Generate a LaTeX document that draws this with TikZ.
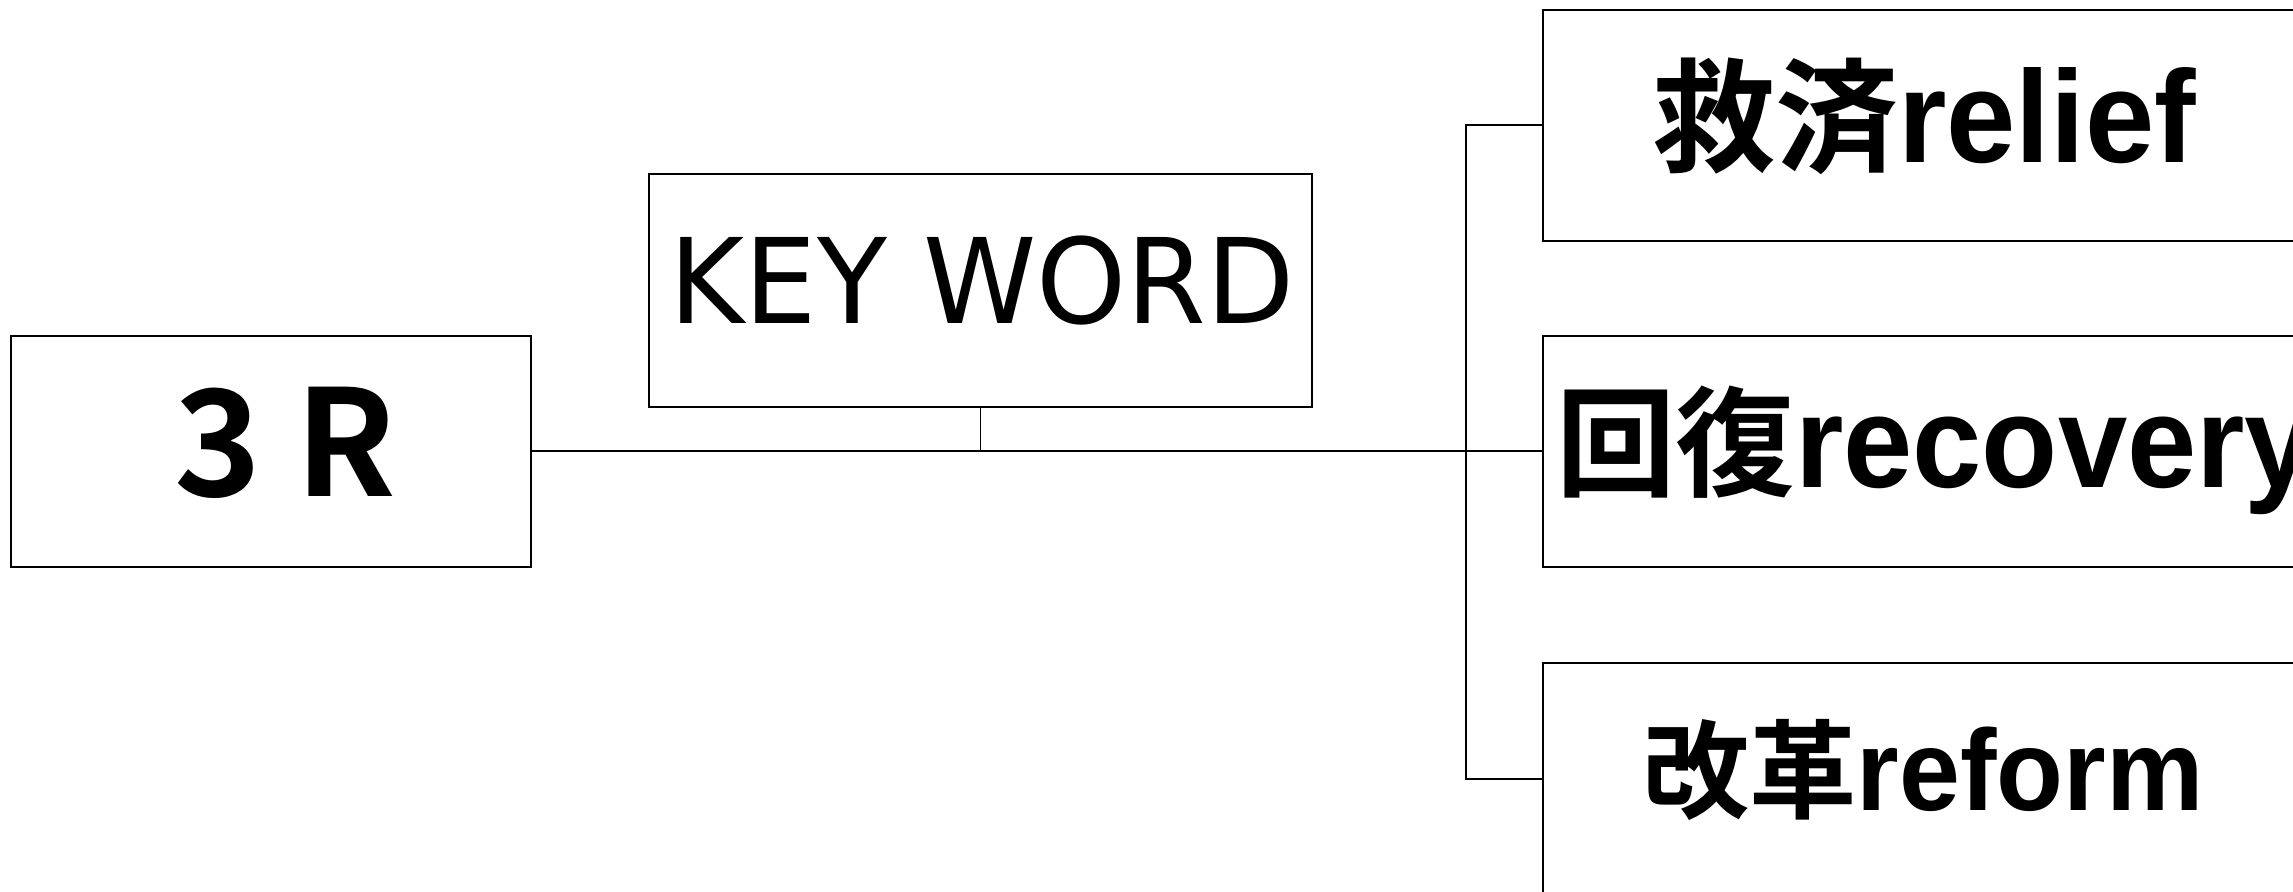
\documentclass[tikz,border=0pt]{standalone}
\usepackage{fontspec}
\newfontfamily\jpfont{Noto Sans CJK JP}[BoldFont={Noto Sans CJK JP Bold}]
\newfontfamily\latfont{Liberation Sans}[FakeStretch=0.95]
\newfontfamily\kwfont{DejaVu Sans}[FakeStretch=0.97]
% kanji size, latin size, kanji, latin
\newcommand{\mixlabel}[4]{{\jpfont\bfseries\fontsize{#1}{#1}\selectfont #3}{\latfont\bfseries\fontsize{#2}{#2}\selectfont #4}}

\begin{document}
\begin{tikzpicture}[x=0.1mm,y=-0.1mm,line width=0.2mm,
    box/.style={draw,rectangle,inner sep=0pt,minimum width=76mm,minimum height=23.1mm},
    word/.style={inner sep=0pt},
    rootfont/.style={font=\jpfont\bfseries\fontsize{42}{42}\selectfont},
    keyfont/.style={font=\kwfont\fontsize{33.6}{33.6}\selectfont}]
    \useasboundingbox (0,0) rectangle (2293,892);
    % boxes
    \node[box,minimum width=52mm] (root) at (271,451.5) {};
    \node[box,minimum width=66.3mm,minimum height=23.3mm] (key) at (980.5,290.5) {};
    \node[box] (relief) at (1923,125.5) {};
    \node[box] (recovery) at (1923,451.5) {};
    \node[box] (reform) at (1923,778.5) {};
    % texts
    \node[word,rootfont,anchor=base] (rootT) at (285.5,497) {3 R};
    \node[word,keyfont,anchor=base] (keyT) at (982,324) {KEY WORD};
    \node[word,anchor=base] (reliefT) at (1924,163) {\mixlabel{35}{37.3}{救済}{relief}};
    \node[word,anchor=base west] (recoveryT) at (1555,488) {\mixlabel{34}{37.3}{回復}{recovery}};
    \node[word,anchor=base] (reformT) at (1923,810) {\mixlabel{30.5}{32.8}{改革}{reform}};
    % connectors
    \draw (root.east) -- (recovery.west);
    \draw[line width=0.15mm] (key.south) -- (key.south |- root.east);
    \draw (relief.west) -- ++(-76,0) |- (reform.west);
\end{tikzpicture}
\end{document}
